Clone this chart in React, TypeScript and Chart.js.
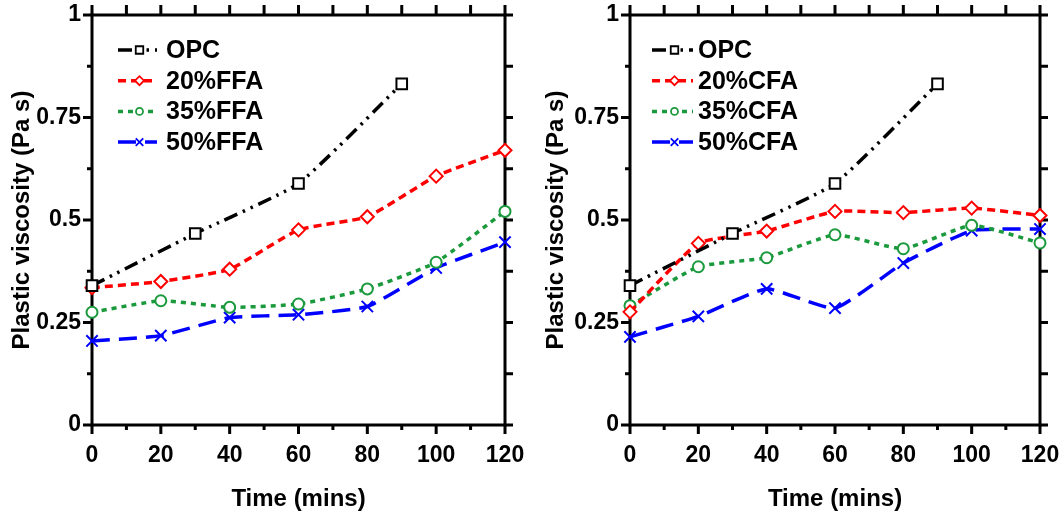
import React, { useEffect, useRef } from 'react';
import { Chart, registerables } from 'chart.js';
Chart.register(...registerables);

// ---------- data ----------
const timeFull = [0, 20, 40, 60, 80, 100, 120];
const timeOPC = [0, 30, 60, 90];
const opcValues = [0.34, 0.467, 0.589, 0.832];

const ffa20 = [0.335, 0.35, 0.38, 0.476, 0.508, 0.607, 0.67];
const ffa35 = [0.275, 0.303, 0.287, 0.295, 0.332, 0.397, 0.521];
const ffa50 = [0.205, 0.218, 0.262, 0.269, 0.289, 0.383, 0.446];

const cfa20 = [0.276, 0.443, 0.473, 0.521, 0.518, 0.529, 0.511];
const cfa35 = [0.291, 0.386, 0.408, 0.464, 0.43, 0.487, 0.444];
const cfa50 = [0.215, 0.265, 0.332, 0.285, 0.395, 0.474, 0.478];

const leftLabels = ['OPC', '20%FFA', '35%FFA', '50%FFA'];
const rightLabels = ['OPC', '20%CFA', '35%CFA', '50%CFA'];

const xTicks = [0, 20, 40, 60, 80, 100, 120];
const xTickLabels = ['0', '20', '40', '60', '80', '100', '120'];
const yTicks = [0, 0.25, 0.5, 0.75, 1];
const yTickLabels = ['0', '0.25', '0.5', '0.75', '1'];

const xTitle = 'Time (mins)';
const yTitle = 'Plastic viscosity (Pa s)';

// ---------- styles ----------
const FONT = 'Liberation Sans';
const seriesStyles = [
  { color: '#000000', dash: [14, 6, 2.5, 6, 2.5, 6], point: 'rect', radius: 7.5, lr: 5 },
  { color: '#ff0000', dash: [8, 5], point: 'rectRot', radius: 6.5, lr: 4.5 },
  { color: '#1a9a3c', dash: [5, 5], point: 'circle', radius: 5.5, lr: 3.5 },
  { color: '#0000ff', dash: [18, 9], point: 'crossRot', radius: 8, lr: 5 },
];

const framePlugin = {
  id: 'frameTicks',
  beforeDatasetsDraw(chart: any) {
    const { ctx, chartArea } = chart;
    const { left, right, top, bottom } = chartArea;
    const xs = chart.scales.x;
    const ys = chart.scales.y;
    ctx.save();
    ctx.strokeStyle = '#000';
    ctx.lineWidth = 3;
    ctx.setLineDash([]);
    ctx.strokeRect(left, top, right - left, bottom - top);
    ctx.lineCap = 'butt';
    ctx.beginPath();
    for (let v = 0; v <= 120; v += 10) {
      const px = xs.getPixelForValue(v);
      const major = v % 20 === 0;
      ctx.moveTo(px, bottom);
      ctx.lineTo(px, bottom + (major ? 9 : 5));
      ctx.moveTo(px, top);
      ctx.lineTo(px, top - 10);
    }
    for (let i = 0; i <= 8; i++) {
      const v = i * 0.125;
      const py = ys.getPixelForValue(v);
      const major = i % 2 === 0;
      ctx.moveTo(left, py);
      ctx.lineTo(left - (major ? 9 : 5), py);
      ctx.moveTo(right, py);
      ctx.lineTo(right + 8, py);
    }
    ctx.stroke();
    ctx.restore();
  },
};

const legendPlugin = {
  id: 'customLegend',
  afterDatasetsDraw(chart: any, _args: any, opts: any) {
    const { ctx } = chart;
    const labels: string[] = opts.labels || [];
    ctx.save();
    labels.forEach((lab, i) => {
      const st = seriesStyles[i];
      const y = opts.y0 + i * opts.dy;
      ctx.strokeStyle = st.color;
      ctx.lineWidth = 3.5;
      ctx.setLineDash(st.dash);
      ctx.beginPath();
      ctx.moveTo(opts.x0, y);
      ctx.lineTo(opts.x1, y);
      ctx.stroke();
      ctx.setLineDash([]);
      const mx = (opts.x0 + opts.x1) / 2 + 2;
      ctx.lineWidth = 1.8;
      ctx.fillStyle = '#ffffff';
      const r = st.lr;
      ctx.beginPath();
      if (st.point === 'rect') {
        ctx.rect(mx - r * 0.75, y - r * 0.75, r * 1.5, r * 1.5);
        ctx.fill();
        ctx.stroke();
      } else if (st.point === 'rectRot') {
        ctx.moveTo(mx - r, y);
        ctx.lineTo(mx, y - r);
        ctx.lineTo(mx + r, y);
        ctx.lineTo(mx, y + r);
        ctx.closePath();
        ctx.fill();
        ctx.stroke();
      } else if (st.point === 'circle') {
        ctx.arc(mx, y, r, 0, Math.PI * 2);
        ctx.fill();
        ctx.stroke();
      } else {
        const d = r * 0.75;
        ctx.moveTo(mx - d, y - d);
        ctx.lineTo(mx + d, y + d);
        ctx.moveTo(mx + d, y - d);
        ctx.lineTo(mx - d, y + d);
        ctx.stroke();
      }
      ctx.fillStyle = '#000';
      ctx.font = `bold 25px "${FONT}"`;
      ctx.textBaseline = 'middle';
      ctx.textAlign = 'left';
      ctx.fillText(lab, opts.tx, y + 1);
    });
    ctx.restore();
  },
};

function makeDatasets(labels: string[], series: number[][]) {
  return labels.map((lab, i) => {
    const st = seriesStyles[i];
    const xs = i === 0 ? timeOPC : timeFull;
    const vals = series[i];
    return {
      label: lab,
      data: xs.map((t, k) => ({ x: t, y: vals[k] })),
      borderColor: st.color,
      backgroundColor: st.color,
      borderWidth: 3.5,
      borderDash: st.dash,
      pointStyle: st.point,
      pointRadius: st.radius,
      pointBorderWidth: 2,
      pointBackgroundColor: '#ffffff',
      pointBorderColor: st.color,
      tension: 0.15,
      clip: false,
      fill: false,
    };
  });
}

function buildConfig(labels: string[], series: number[][], yWidth: number, padRight: number, yTitlePad: number, legendX: { x0: number; x1: number; tx: number }) {
  return {
    type: 'line',
    data: { datasets: makeDatasets(labels, series) },
    plugins: [framePlugin, legendPlugin],
    options: {
      animation: false,
      responsive: false,
      events: [],
      layout: { padding: { left: 0, right: padRight, top: 15, bottom: 0 } },
      plugins: {
        legend: { display: false },
        tooltip: { enabled: false },
        customLegend: { labels, y0: 50, dy: 30.7, ...legendX },
      },
      scales: {
        x: {
          type: 'linear',
          min: 0,
          max: 120,
          afterBuildTicks: (s: any) => { s.ticks = xTicks.map((v) => ({ value: v })); },
          afterFit: (s: any) => { s.height = 93; s.paddingLeft = 0; s.paddingRight = 0; },
          grid: { display: false, drawTicks: false },
          border: { display: false },
          ticks: {
            padding: 17,
            color: '#000',
            font: { family: FONT, size: 23, weight: 'bold' },
            callback: (v: number) => { const k = xTicks.indexOf(v); return k >= 0 ? xTickLabels[k] : ''; },
            maxRotation: 0,
          },
          title: {
            display: true,
            text: xTitle,
            color: '#000',
            font: { family: FONT, size: 24, weight: 'bold' },
            padding: { top: 0, bottom: 4 },
          },
        },
        y: {
          type: 'linear',
          min: 0,
          max: 1,
          afterBuildTicks: (s: any) => { s.ticks = yTicks.map((v) => ({ value: v })); },
          afterFit: (s: any) => { s.width = yWidth; s.paddingTop = 0; s.paddingBottom = 0; },
          grid: { display: false, drawTicks: false },
          border: { display: false },
          ticks: {
            padding: 11,
            color: '#000',
            font: { family: FONT, size: 23, weight: 'bold' },
            callback: (v: number) => { const k = yTicks.indexOf(v); return k >= 0 ? yTickLabels[k] : ''; },
          },
          title: {
            display: true,
            text: yTitle,
            color: '#000',
            font: { family: FONT, size: 24, weight: 'bold' },
            padding: { top: yTitlePad, bottom: 0 },
          },
        },
      },
    },
  };
}

function Panel({ cfg }: { cfg: any }) {
  const ref = useRef<HTMLCanvasElement | null>(null);
  useEffect(() => {
    if (!ref.current) return;
    const chart = new Chart(ref.current, cfg);
    return () => chart.destroy();
  }, []);
  return <canvas ref={ref} width={531} height={518} style={{ display: 'block' }} />;
}

export default function App() {
  const leftCfg = buildConfig(leftLabels, [opcValues, ffa20, ffa35, ffa50], 92, 26, 7.5, { x0: 118, x1: 157, tx: 166 });
  const rightCfg = buildConfig(rightLabels, [opcValues, cfa20, cfa35, cfa50], 99, 22, 11, { x0: 121, x1: 162, tx: 167 });
  return (
    <div style={{ position: 'fixed', left: 0, top: 0, width: 1062, height: 518, background: '#fff' }}>
      <div style={{ position: 'absolute', left: 0, top: 0, width: 531, height: 518 }}>
        <Panel cfg={leftCfg} />
      </div>
      <div style={{ position: 'absolute', left: 531, top: 0, width: 531, height: 518 }}>
        <Panel cfg={rightCfg} />
      </div>
    </div>
  );
}
